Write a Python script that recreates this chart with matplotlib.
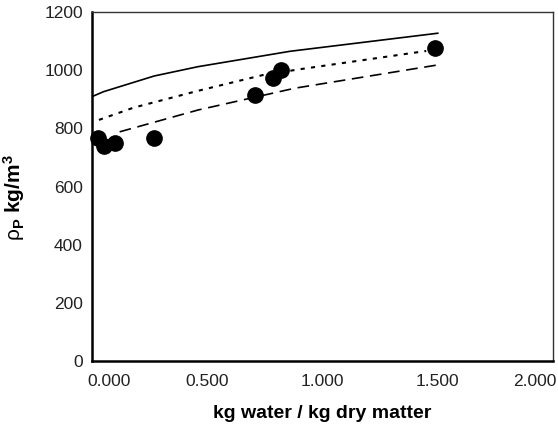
import matplotlib
matplotlib.use("Agg")
import matplotlib.pyplot as plt
from matplotlib.transforms import ScaledTranslation

plt.rcParams['font.family'] = ['Liberation Sans', 'DejaVu Sans']
plt.rcParams['mathtext.fontset'] = 'custom'
plt.rcParams['mathtext.rm'] = 'Liberation Sans'
plt.rcParams['mathtext.bf'] = 'Liberation Sans:bold'
plt.rcParams['mathtext.it'] = 'Liberation Sans:italic'

# Experimental points
exp_x = [0.025, 0.052, 0.10, 0.269, 0.707, 0.785, 0.82, 1.488]
exp_y = [767, 739, 750, 767, 915, 973, 1000, 1076]

# Model curves
solid_x = [0.0, 0.05, 0.27, 0.46, 0.86, 1.5]
solid_y = [909, 926, 980, 1012, 1065, 1127]
dotted_x = [0.03, 0.18, 0.46, 0.74, 0.9, 1.45]
dotted_y = [829, 871, 929, 983, 1003, 1066]
dashed_x = [0.12, 0.46, 0.88, 1.5]
dashed_y = [788, 863, 938, 1018]

x_ticks = [0.0, 0.5, 1.0, 1.5, 2.0]
x_tick_labels = ['0.000', '0.500', '1.000', '1.500', '2.000']
y_ticks = [0, 200, 400, 600, 800, 1000, 1200]

fig = plt.figure(figsize=(5.58, 4.26), dpi=100)
ax = fig.add_axes([92/558, 1-361/426, (553-92)/558, (361-12)/426])

ax.plot(solid_x, solid_y, color='black', lw=1.2, ls='-')
ax.plot(dotted_x, dotted_y, color='black', lw=1.5, ls=(0, (2, 3)))
ax.plot(dashed_x, dashed_y, color='black', lw=1.2, ls=(0, (7, 4)))
ax.plot(exp_x, exp_y, 'o', color='black', markersize=11, zorder=5, clip_on=False)

ax.set_xlim(0, 2.0)
ax.set_ylim(0, 1200)
ax.set_xticks(x_ticks)
ax.set_xticklabels(x_tick_labels)
ax.set_yticks(y_ticks)
ax.tick_params(length=0, labelsize=12.5)
ax.tick_params(axis='y', pad=6.5)
ax.tick_params(axis='x', pad=9)
labels = ax.get_xticklabels()
labels[0].set_transform(labels[0].get_transform() + ScaledTranslation(17/100, 0, fig.dpi_scale_trans))
labels[-1].set_transform(labels[-1].get_transform() + ScaledTranslation(-18/100, 0, fig.dpi_scale_trans))
for lab in ax.get_xticklabels() + ax.get_yticklabels():
    lab.set_color('#222222')

for s in ['left', 'bottom']:
    ax.spines[s].set_linewidth(1.8)
    ax.spines[s].set_color('black')
for s in ['top', 'right']:
    ax.spines[s].set_linewidth(1.0)
    ax.spines[s].set_color('#333333')

ax.set_xlabel('kg water / kg dry matter', fontsize=14, fontweight='bold', labelpad=12)
ax.set_ylabel(r'$\mathrm{\rho}_\mathbf{P}$ $\mathbf{kg/m^3}$', fontsize=15)
ax.yaxis.set_label_coords(-0.141, 0.467)

fig.savefig('out.png', dpi=100)
